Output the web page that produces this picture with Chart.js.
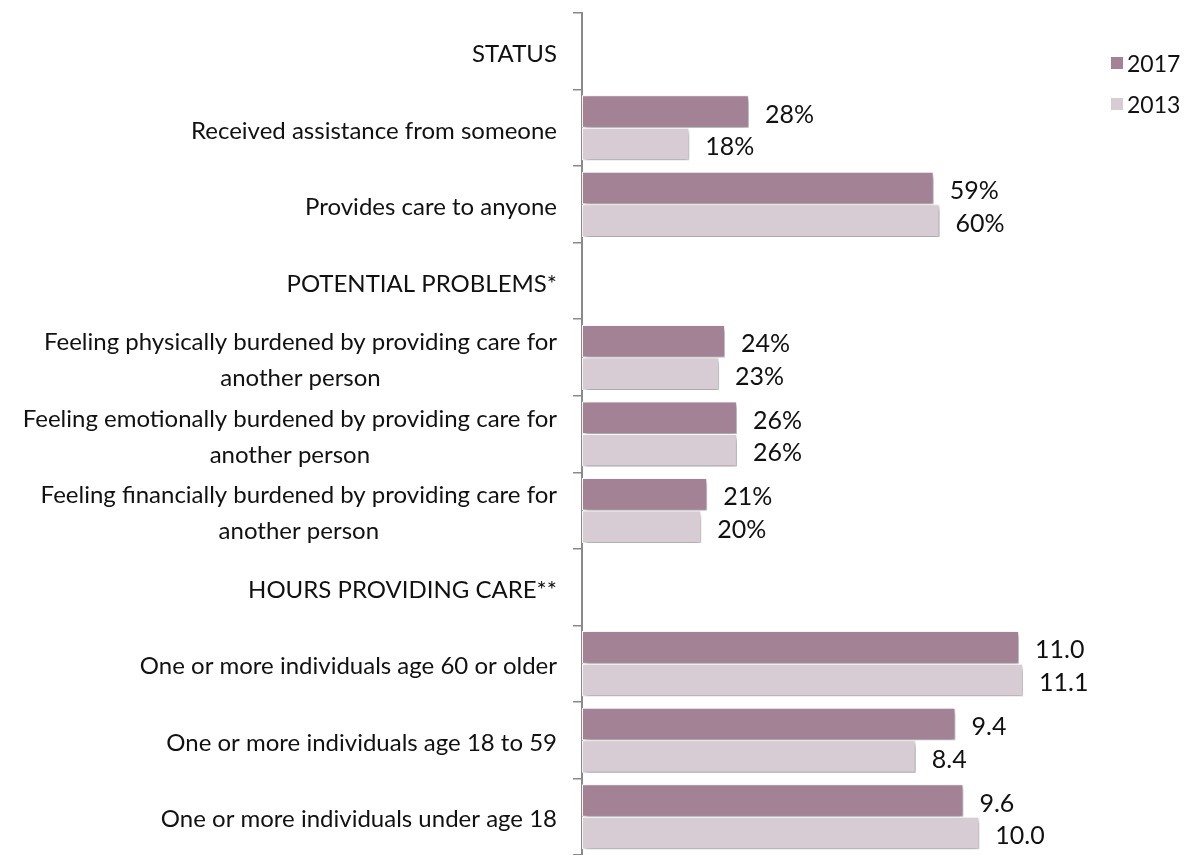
<!DOCTYPE html>
<html>
<head>
<meta charset="utf-8">
<script src="https://cdn.jsdelivr.net/npm/chart.js@4.4.0/dist/chart.umd.min.js"></script>
<style>
  html, body { margin: 0; padding: 0; background: #fff; }
  .chart-box { position: relative; width: 1190px; height: 855px; }
</style>
</head>
<body>
<div class="chart-box"><canvas id="careChart"></canvas></div>
<script>
const categories = [
  'STATUS',
  'Received assistance from someone',
  'Provides care to anyone',
  'POTENTIAL PROBLEMS*',
  ['Feeling physically burdened by providing care for', 'another person'],
  ['Feeling emotionally burdened by providing care for', 'another person'],
  ['Feeling financially burdened by providing care for', 'another person'],
  'HOURS PROVIDING CARE**',
  'One or more individuals age 60 or older',
  'One or more individuals age 18 to 59',
  'One or more individuals under age 18'
];

// percentages (status + potential problems)
const pct2017 = [null, 28, 59, null, 24, 26, 21, null, null, null, null];
const pct2013 = [null, 18, 60, null, 23, 26, 20, null, null, null, null];

// average hours per week providing care
const hrs2017 = [null, null, null, null, null, null, null, null, 11.0, 9.4, 9.6];
const hrs2013 = [null, null, null, null, null, null, null, null, 11.1, 8.4, 10.0];

const seriesNames = ['2017', '2013'];
const COLOR_2017 = '#a28294';
const COLOR_2013 = '#d8ccd4';
const FONT = 'Lato, "Open Sans", sans-serif';

const barStyle = (color) => ({
  backgroundColor: color,
  borderColor: '#ffffff',
  borderWidth: 1,
  borderSkipped: false,
  skipNull: true,
  barPercentage: 1,
  categoryPercentage: 0.85
});

// soft drop shadow under the bars
const barShadow = {
  id: 'barShadow',
  beforeDatasetsDraw(chart) {
    const ctx = chart.ctx;
    ctx.save();
    ctx.shadowColor = 'rgba(0, 0, 0, 0.4)';
    ctx.shadowBlur = 5;
    ctx.shadowOffsetX = 2;
    ctx.shadowOffsetY = 3;
  },
  afterDatasetsDraw(chart) {
    chart.ctx.restore();
  }
};

// numbers printed at the end of each bar
const valueLabels = {
  id: 'valueLabels',
  afterDatasetsDraw(chart) {
    const ctx = chart.ctx;
    ctx.save();
    ctx.font = '25px ' + FONT;
    ctx.fillStyle = '#111';
    ctx.textAlign = 'left';
    ctx.textBaseline = 'middle';
    chart.data.datasets.forEach((ds, i) => {
      const meta = chart.getDatasetMeta(i);
      meta.data.forEach((bar, j) => {
        const v = ds.data[j];
        if (v === null || v === undefined) return;
        const text = ds.unit === 'pct' ? v + '%' : v.toFixed(1);
        ctx.fillText(text, bar.x + 16, bar.y + 3);
      });
    });
    ctx.restore();
  }
};

// category labels: block right-aligned to the axis, lines centred in the block
const categoryLabels = {
  id: 'categoryLabels',
  afterDraw(chart) {
    const ctx = chart.ctx;
    const y = chart.scales.y;
    const right = y.right - 25;
    const lineHeight = 36;
    ctx.save();
    ctx.font = '24px ' + FONT;
    ctx.fillStyle = '#111';
    ctx.textBaseline = 'middle';
    ctx.textAlign = 'center';
    chart.data.labels.forEach((label, i) => {
      const lines = Array.isArray(label) ? label : [label];
      const maxW = Math.max(...lines.map((l) => ctx.measureText(l).width));
      const cx = right - maxW / 2;
      const cy = y.getPixelForValue(i) + 3;
      lines.forEach((line, k) => {
        ctx.fillText(line, cx, cy + (k - (lines.length - 1) / 2) * lineHeight);
      });
    });
    ctx.restore();
  }
};

// legend in the top right corner
const cornerLegend = {
  id: 'cornerLegend',
  afterDraw(chart) {
    const ctx = chart.ctx;
    const items = [
      { text: seriesNames[0], color: COLOR_2017, y: 63 },
      { text: seriesNames[1], color: COLOR_2013, y: 104 }
    ];
    ctx.save();
    ctx.font = '23px ' + FONT;
    ctx.textBaseline = 'middle';
    ctx.textAlign = 'left';
    items.forEach((item) => {
      ctx.fillStyle = item.color;
      ctx.fillRect(1111, item.y - 6, 12, 12);
      ctx.fillStyle = '#111';
      ctx.fillText(item.text, 1127, item.y + 2);
    });
    ctx.restore();
  }
};

new Chart(document.getElementById('careChart'), {
  type: 'bar',
  data: {
    labels: categories,
    datasets: [
      { label: seriesNames[0], data: pct2017, xAxisID: 'x', unit: 'pct', ...barStyle(COLOR_2017) },
      { label: seriesNames[1], data: pct2013, xAxisID: 'x', unit: 'pct', ...barStyle(COLOR_2013) },
      { label: seriesNames[0], data: hrs2017, xAxisID: 'xh', unit: 'hrs', ...barStyle(COLOR_2017) },
      { label: seriesNames[1], data: hrs2013, xAxisID: 'xh', unit: 'hrs', ...barStyle(COLOR_2013) }
    ]
  },
  options: {
    indexAxis: 'y',
    responsive: true,
    maintainAspectRatio: false,
    animation: false,
    layout: { padding: { top: 13, right: 12, bottom: 0, left: 0 } },
    plugins: {
      legend: { display: false },
      tooltip: { enabled: false }
    },
    scales: {
      x: { display: false, min: 0, max: 100 },
      xh: { display: false, min: 0, max: 15, axis: 'x' },
      y: {
        ticks: { display: false },
        grid: {
          offset: true,
          drawOnChartArea: false,
          tickLength: 9,
          lineWidth: 1.5,
          color: '#8a8a8a'
        },
        border: { color: '#8a8a8a', width: 2 },
        afterFit(scale) { scale.width = 582; }
      }
    }
  },
  plugins: [barShadow, valueLabels, categoryLabels, cornerLegend]
});
</script>
</body>
</html>
